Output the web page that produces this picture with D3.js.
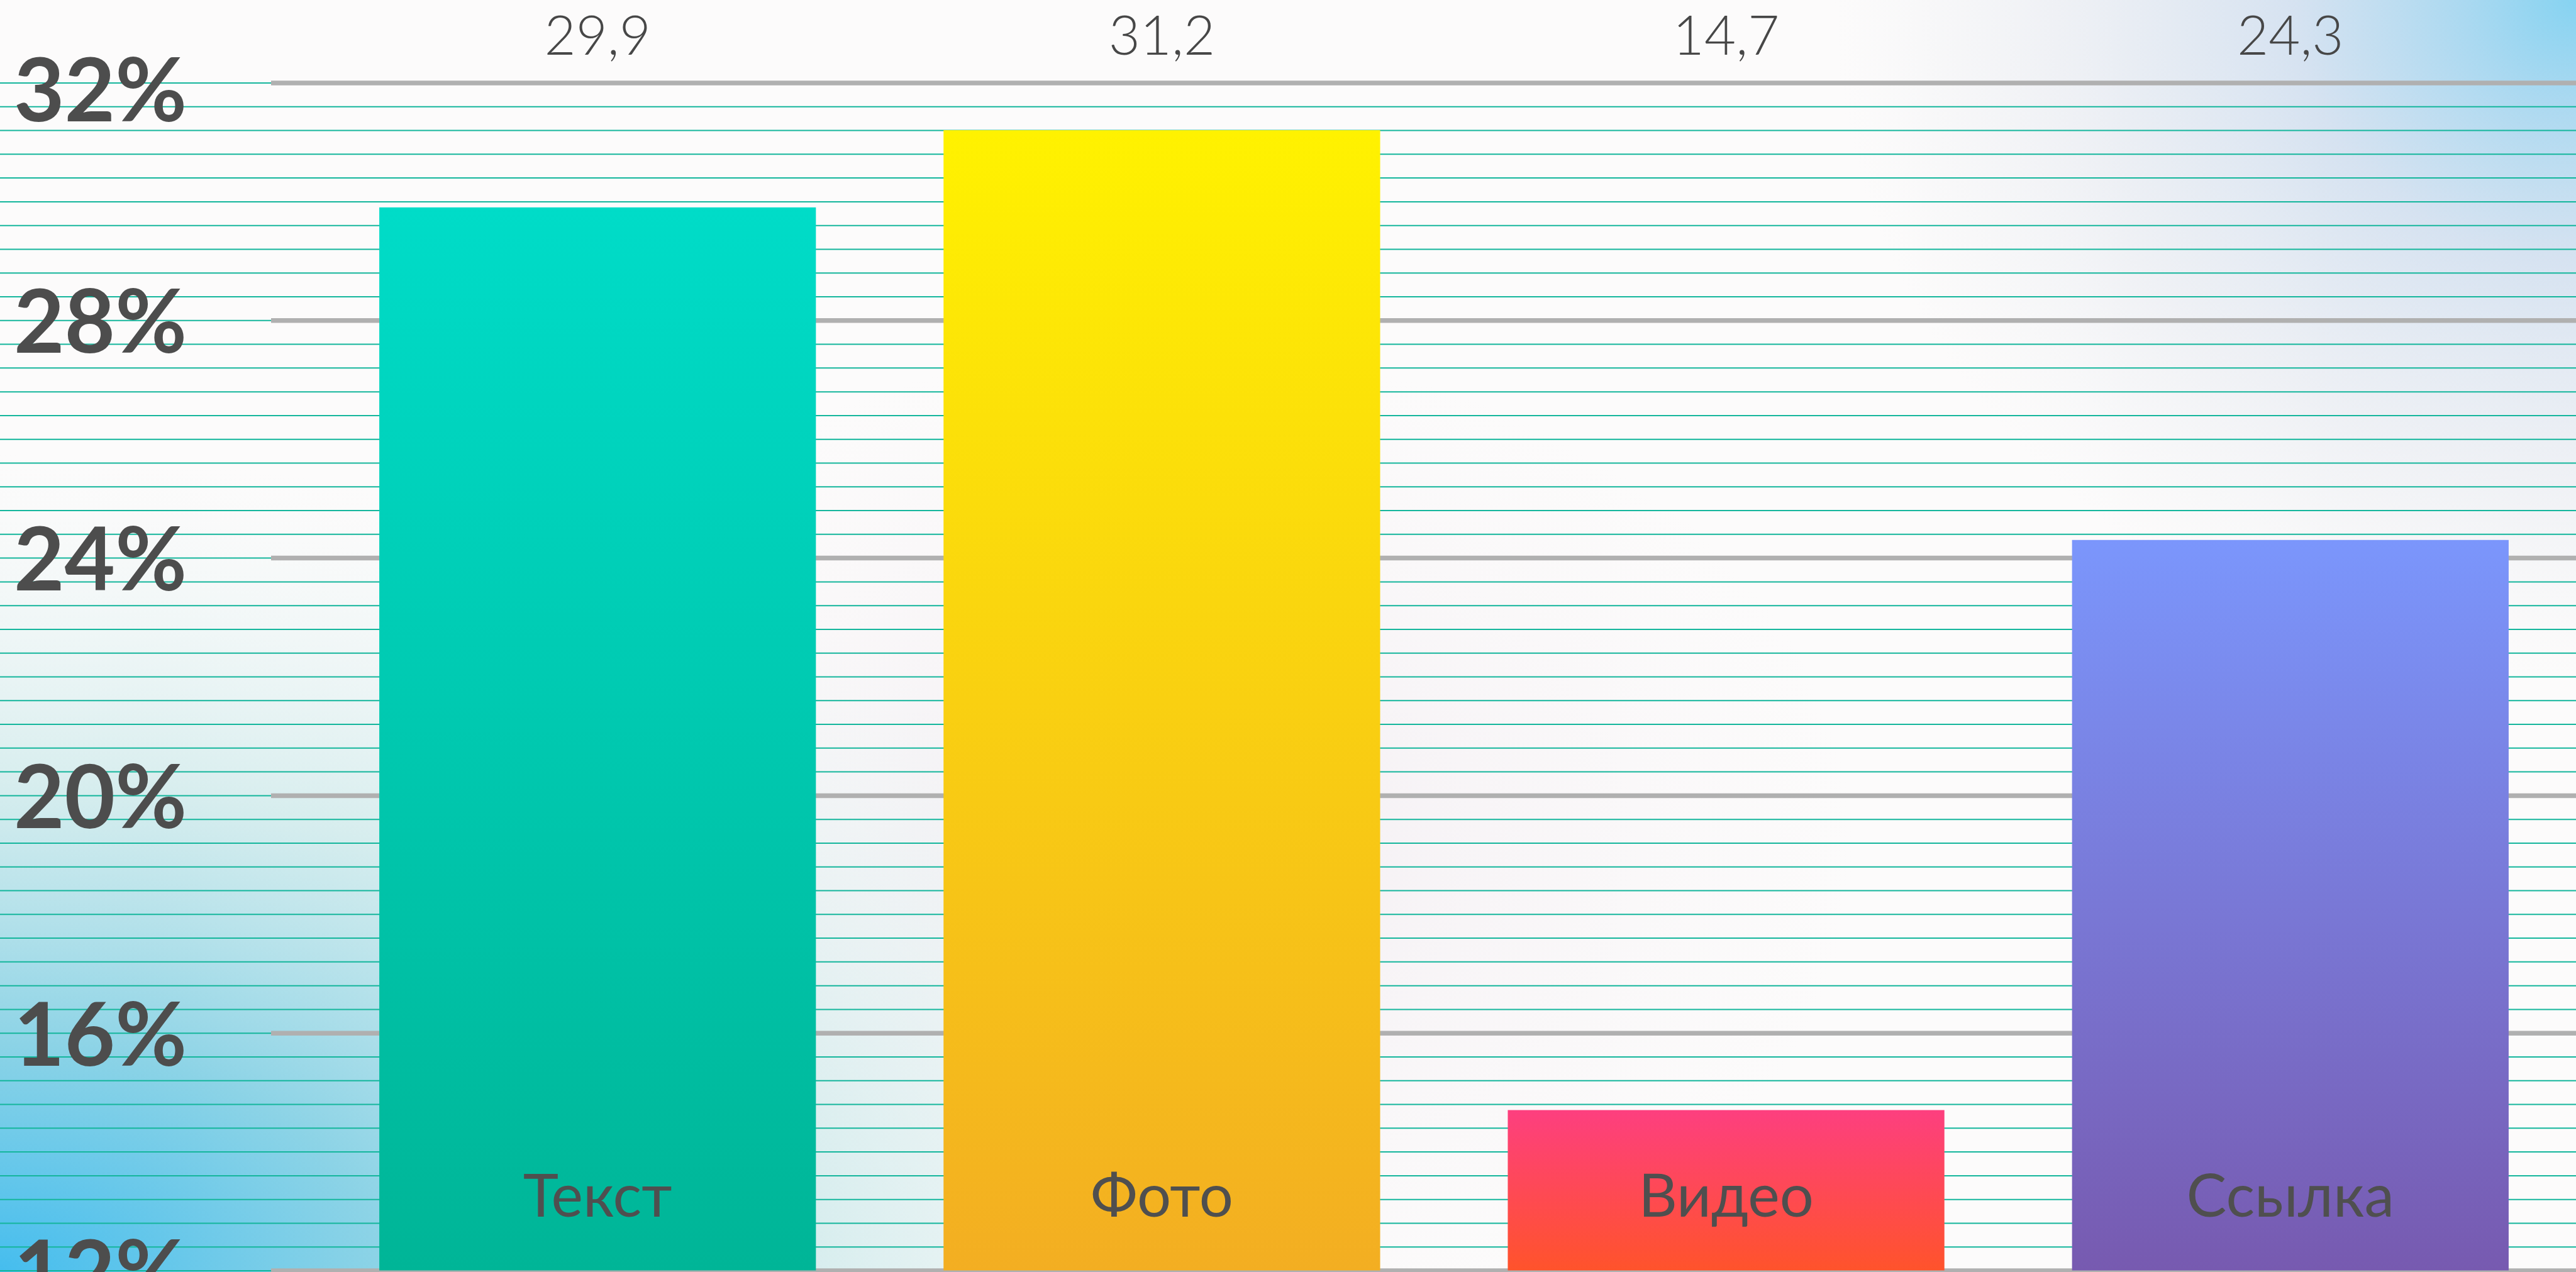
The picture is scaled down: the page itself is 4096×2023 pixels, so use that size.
<!DOCTYPE html>
<html>
<head>
<meta charset="utf-8">
<script src="https://cdn.jsdelivr.net/npm/d3@7"></script>
<style>
  html, body { margin: 0; padding: 0; overflow: hidden; background: #ffffff; }
  svg { display: block; }
</style>
</head>
<body>
<svg id="chart" width="4096" height="2023"></svg>
<script>
// Share of posts by content type, %
const categories = ["Текст", "Фото", "Видео", "Ссылка"];
const values = [29.9, 31.2, 14.7, 24.3];
const yTicks = [12, 16, 20, 24, 28, 32];

// Bar gradient stops (top → bottom), one pair per category
const barTop = ["#00dcc8", "#fff200", "#fd3f7f", "#7b96fc"];
const barBottom = ["#00b597", "#f3ae22", "#ff532b", "#775ab0"];

const W = 4096, H = 2023;
const gridLeft = 431;

const ru = d3.formatLocale({ decimal: ",", thousands: "\u00a0", grouping: [3], currency: ["", " ₽"] });
const fmtValue = ru.format(".1f");
const fmtTick = d => d + "%";

const svg = d3.select("#chart");
const defs = svg.append("defs");

const y = d3.scaleLinear().domain([12, 32]).range([2020.5, 131.5]);
const x = d3.scaleBand()
  .domain(categories)
  .range([501.7, 4090.3])
  .paddingInner(0.2262)
  .paddingOuter(0.113);

// ---- background wash ----
function radial(id, cx, cy, rx, ry, stops) {
  const g = defs.append("radialGradient")
    .attr("id", id)
    .attr("gradientUnits", "userSpaceOnUse")
    .attr("cx", 0).attr("cy", 0).attr("r", 1)
    .attr("gradientTransform", `translate(${cx},${cy}) scale(${rx},${ry})`);
  stops.forEach(([o, c, a]) => g.append("stop")
    .attr("offset", o).attr("stop-color", c).attr("stop-opacity", a));
}
radial("wash-bl", 0, H, 2150, 1300, [
  [0, "#45bdee", 1], [0.28, "#86d1e5", 0.95], [0.6, "#cbe9ea", 0.75], [1, "#eef6f6", 0]
]);
radial("wash-tr", W, 0, 1180, 1080, [
  [0, "#86d3f1", 1], [0.15, "#a6d7f0", 0.95], [0.38, "#cfdeef", 0.85], [0.7, "#e6eaf1", 0.6], [1, "#eef0f3", 0]
]);
radial("wash-mid", 1850, 1350, 1100, 800, [
  [0, "#efe8ef", 0.75], [1, "#f5f1f4", 0]
]);

svg.append("rect").attr("width", W).attr("height", H).attr("fill", "#fcfbfb");
svg.append("rect").attr("width", W).attr("height", H).attr("fill", "url(#wash-mid)");
svg.append("rect").attr("width", W).attr("height", H).attr("fill", "url(#wash-bl)");
svg.append("rect").attr("width", W).attr("height", H).attr("fill", "url(#wash-tr)");

// ---- ruled minor lines every 0.4 % across the full width ----
const minorTicks = d3.range(0, 51).map(i => +(12 + i * 0.4).toFixed(1));
const minorAxis = d3.axisLeft(y).tickValues(minorTicks).tickSize(-W).tickFormat("");
svg.append("g")
  .attr("class", "minor-grid")
  .call(minorAxis)
  .call(g => g.select(".domain").remove())
  .call(g => g.selectAll(".tick line")
    .attr("stroke", "#14b69c")
    .attr("stroke-width", 2));

// ---- major gridlines ----
const gridAxis = d3.axisLeft(y).tickValues(yTicks).tickSize(-(W - gridLeft)).tickFormat("");
svg.append("g")
  .attr("class", "major-grid")
  .attr("transform", `translate(${gridLeft},0)`)
  .call(gridAxis)
  .call(g => g.select(".domain").remove())
  .call(g => g.selectAll(".tick line")
    .attr("stroke", "#b0b0b0")
    .attr("stroke-width", 7.5));

// ---- bars ----
categories.forEach((c, i) => {
  const lg = defs.append("linearGradient")
    .attr("id", "bar-" + i)
    .attr("x1", 0).attr("y1", 0).attr("x2", 0).attr("y2", 1);
  lg.append("stop").attr("offset", 0).attr("stop-color", barTop[i]);
  lg.append("stop").attr("offset", 1).attr("stop-color", barBottom[i]);
});

svg.append("g")
  .attr("class", "bars")
  .selectAll("rect")
  .data(values)
  .join("rect")
  .attr("x", (d, i) => x(categories[i]))
  .attr("width", x.bandwidth())
  .attr("y", d => y(d))
  .attr("height", d => y(12) - y(d))
  .attr("fill", (d, i) => `url(#bar-${i})`);

// ---- value labels along the top ----
svg.append("g")
  .attr("class", "value-labels")
  .selectAll("text")
  .data(values)
  .join("text")
  .attr("x", (d, i) => x(categories[i]) + x.bandwidth() / 2)
  .attr("y", 87)
  .attr("text-anchor", "middle")
  .attr("font-family", "Lato, 'Noto Sans', sans-serif")
  .attr("font-weight", 300)
  .attr("font-size", 86.5)
  .attr("fill", "#474747")
  .text(d => fmtValue(d));

// ---- category names inside the bars ----
svg.append("g")
  .attr("class", "category-labels")
  .selectAll("text")
  .data(categories)
  .join("text")
  .attr("x", d => x(d) + x.bandwidth() / 2)
  .attr("y", 1935)
  .attr("text-anchor", "middle")
  .attr("font-family", "Lato, 'Noto Sans', sans-serif")
  .attr("font-weight", 400)
  .attr("font-size", 95.6)
  .attr("fill", "#4f4f4f")
  .text(d => d);

// ---- y tick labels ----
svg.append("g")
  .attr("class", "y-labels")
  .selectAll("text")
  .data(yTicks)
  .join("text")
  .attr("x", 22)
  .attr("y", d => y(d) + 52 + (d === d3.max(yTicks) ? 9 : 0))
  .attr("font-family", "Lato, 'Noto Sans', sans-serif")
  .attr("font-weight", 700)
  .attr("font-size", 139)
  .attr("fill", "#4d4d4d")
  .text(fmtTick);
</script>
</body>
</html>
